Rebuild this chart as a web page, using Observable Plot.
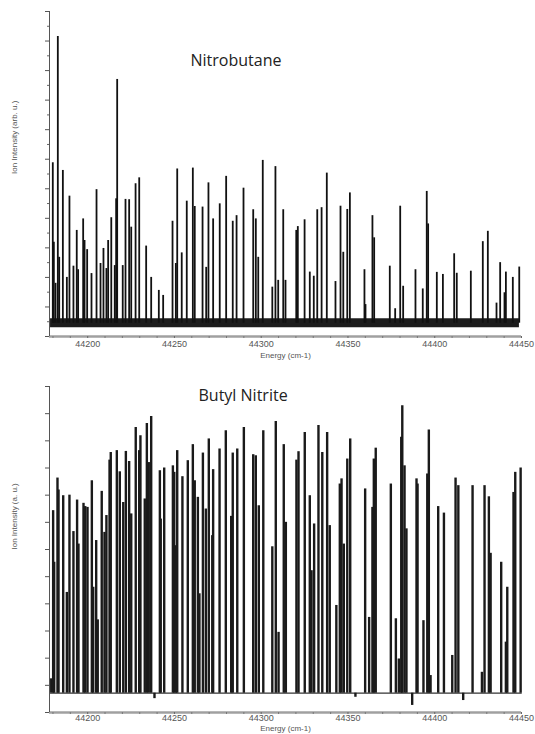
<!DOCTYPE html>
<html>
<head>
<meta charset="utf-8">
<script src="https://cdn.jsdelivr.net/npm/d3@7"></script>
<script src="https://cdn.jsdelivr.net/npm/@observablehq/plot@0.6"></script>
<style>
  html, body { margin: 0; padding: 0; background: #fff; }
  #chart { width: 535px; height: 734px; overflow: hidden; }
  #chart svg { display: block; }
</style>
</head>
<body>
<div id="chart"></div>
<script>
// ---------- shared axis values ----------
const xDomain = [44178, 44450];
const xTicks = [44200, 44250, 44300, 44350, 44400, 44450];
const xMinorTicks = [44180, 44190, 44210, 44220, 44230, 44240, 44260, 44270, 44280, 44290, 44310, 44320, 44330, 44340, 44360, 44370, 44380, 44390, 44410, 44420, 44430, 44440];
const xLabel = "Energy (cm-1)";

// ---------- Nitrobutane (top) ----------
const nbTitle = "Nitrobutane";
const nbYLabel = "Ion Intensity (arb. u.)";
const nbYTicks = [0, 1, 2, 3, 4, 5, 6, 7, 8, 9, 10, 11];
const nbYMinorTicks = [0.5, 1.5, 2.5, 3.5, 4.5, 5.5, 6.5, 7.5, 8.5, 9.5, 10.5];
const nbBaseline = 0.45;
const nbNoise = [0.3, 0.6];
const nbNoiseSpan = [44178.6, 44448.8];
const nbEnergy = [
  44179.9, 44180.5, 44181.5, 44182.8, 44183.6, 44185.7, 44188.0, 44189.5, 44191.8, 44193.7,
  44194.5, 44197.4, 44198.2, 44199.7, 44202.2, 44205.1, 44207.4, 44209.1, 44210.8, 44211.8,
  44213.6, 44215.6, 44216.4, 44217.0, 44220.2, 44221.8, 44223.9, 44225.1, 44227.6, 44229.7,
  44233.7, 44236.6, 44241.0, 44243.5, 44248.9, 44250.8, 44251.6, 44254.2, 44257.1, 44260.6,
  44261.7, 44266.2, 44268.3, 44269.6, 44272.3, 44276.1, 44279.8, 44283.6, 44285.8, 44289.8,
  44295.4, 44296.9, 44298.3, 44300.9, 44306.4, 44308.2, 44309.8, 44312.7, 44314.0, 44320.2,
  44321.1, 44325.0, 44328.0, 44330.3, 44332.3, 44334.8, 44337.8, 44342.8, 44345.7, 44347.3,
  44349.6, 44351.1, 44359.5, 44360.1, 44364.1, 44365.1, 44374.1, 44377.2, 44380.1, 44381.8,
  44388.9, 44393.1, 44395.4, 44396.2, 44401.2, 44404.7, 44411.2, 44412.7, 44420.8, 44427.7,
  44430.6, 44435.6, 44437.7, 44440.2, 44441.0, 44445.0, 44448.7
];
const nbIntensity = [
  5.88, 3.19, 1.80, 10.15, 2.68, 5.62, 2.00, 4.75, 2.38, 3.59,
  2.26, 3.98, 3.25, 2.94, 2.13, 4.97, 2.47, 2.98, 2.30, 3.25,
  4.02, 2.40, 4.66, 8.70, 2.40, 4.64, 4.63, 3.70, 5.17, 5.37,
  3.06, 2.00, 1.56, 1.39, 3.90, 2.47, 5.67, 2.83, 4.58, 5.70,
  4.40, 4.38, 2.34, 5.20, 3.98, 4.49, 5.42, 3.90, 4.09, 5.02,
  4.29, 3.98, 2.68, 5.96, 1.67, 5.75, 1.90, 4.29, 1.90, 3.59,
  3.72, 3.95, 2.18, 2.04, 4.29, 4.36, 5.53, 1.86, 4.41, 2.85,
  4.30, 4.86, 2.26, 1.08, 4.09, 3.34, 2.38, 0.94, 4.41, 1.70,
  2.26, 1.61, 4.91, 3.81, 2.17, 2.10, 2.80, 2.14, 2.21, 3.21,
  3.56, 1.13, 2.50, 1.48, 2.18, 2.00, 2.35
];

// ---------- Butyl Nitrite (bottom) ----------
const bnTitle = "Butyl Nitrite";
const bnYLabel = "Ion Intensity (a. u.)";
const bnYTicks = [0, 1, 2, 3, 4, 5, 6, 7, 8, 9, 10, 11, 12];
const bnBaseline = 0.71;
const bnBaseSpan = [44178.6, 44449.8];
const bnEnergy = [
  44179.0, 44180.1, 44180.7, 44182.6, 44183.2, 44185.9, 44188.0, 44189.5, 44191.8, 44193.9,
  44194.7, 44197.6, 44198.6, 44199.9, 44202.4, 44203.2, 44204.9, 44205.8, 44208.1, 44209.7,
  44210.8, 44212.6, 44213.3, 44216.8, 44218.5, 44220.5, 44222.0, 44223.9, 44225.1, 44227.7,
  44229.7, 44230.4, 44232.9, 44234.1, 44235.2, 44236.6, 44238.5, 44241.6, 44242.1, 44244.1,
  44249.1, 44249.9, 44250.8, 44251.6, 44254.6, 44257.7, 44260.6, 44261.7, 44263.5, 44264.4,
  44266.4, 44268.1, 44269.8, 44271.8, 44272.3, 44276.0, 44279.6, 44282.7, 44283.6, 44286.2,
  44290.0, 44295.4, 44296.9, 44298.6, 44301.2, 44306.4, 44308.4, 44310.0, 44313.0, 44314.2,
  44320.3, 44321.5, 44325.1, 44328.0, 44329.0, 44330.5, 44333.0, 44335.2, 44338.0, 44339.5,
  44343.3, 44345.3, 44346.3, 44347.6, 44349.6, 44351.3, 44354.3, 44359.9, 44362.2, 44364.1,
  44364.9, 44366.0, 44374.7, 44377.6, 44379.3, 44380.7, 44381.3, 44382.6, 44383.7, 44387.0,
  44389.5, 44390.1, 44393.5, 44395.7, 44396.6, 44397.6, 44402.0, 44405.3, 44410.1, 44412.0,
  44413.6, 44416.4, 44421.8, 44427.2, 44428.7, 44431.2, 44432.2, 44438.3, 44441.0, 44441.8,
  44445.4, 44446.4, 44449.5
];
const bnIntensity = [
  1.24, 7.43, 5.53, 8.63, 8.19, 7.98, 4.42, 8.00, 6.66, 7.82,
  6.20, 7.70, 7.58, 7.55, 8.53, 4.61, 6.33, 3.41, 8.14, 6.63,
  7.25, 9.29, 9.57, 9.64, 8.86, 7.73, 9.61, 9.24, 7.31, 10.49,
  9.64, 10.19, 7.86, 10.64, 9.20, 10.90, 0.51, 8.90, 7.12, 9.00,
  9.08, 8.84, 6.14, 9.64, 8.68, 9.27, 9.86, 8.53, 7.92, 4.37,
  9.55, 7.49, 10.07, 6.51, 8.94, 9.70, 10.37, 7.22, 9.55, 9.70,
  10.49, 9.49, 9.45, 7.61, 10.37, 6.10, 10.71, 2.95, 9.86, 7.00,
  9.29, 9.60, 10.31, 7.98, 5.22, 6.94, 10.56, 9.57, 10.31, 6.88,
  3.94, 8.41, 8.60, 6.20, 9.33, 10.07, 0.56, 8.23, 3.50, 7.55,
  9.33, 9.73, 8.41, 3.45, 1.97, 10.13, 11.29, 9.08, 6.76, 0.26,
  8.60, 8.41, 3.38, 8.78, 10.40, 1.36, 7.58, 7.34, 2.10, 8.63,
  8.35, 0.44, 8.35, 1.48, 8.35, 7.94, 5.86, 5.53, 2.59, 4.61,
  8.10, 8.84, 9.00
];

// ---------- build ----------
const nbPeaks = nbEnergy.map((e, i) => ({energy: e, intensity: nbIntensity[i]}));
const bnPeaks = bnEnergy.map((e, i) => ({energy: e, intensity: bnIntensity[i]}));

const axisFont = "'Liberation Sans', Arial, sans-serif";
const titleFont = "'Open Sans', 'Noto Sans', sans-serif";
const fmt = d3.format("d");

function commonAxes(yTicks, yMax, ylabel, labelDy, tickPadding) {
  return [
    Plot.ruleY([0], {stroke: "#a0a0a0", strokeWidth: 2.6}),
    Plot.ruleX([xDomain[0]], {y1: 0, y2: yMax, stroke: "#555", strokeWidth: 1}),
    Plot.axisY(yTicks, {anchor: "left", tickSize: 4, tickFormat: () => "", label: null, stroke: "#555"}),
    Plot.axisX(xTicks, {anchor: "bottom", tickSize: 2, tickPadding, tickFormat: fmt, fontSize: 9, fill: "#555", stroke: "#666", label: null}),
    Plot.axisX(xMinorTicks, {anchor: "bottom", tickSize: 2, tickFormat: () => "", label: null, stroke: "#777"}),
    Plot.text([xLabel], {frameAnchor: "bottom", lineAnchor: "middle", dy: labelDy, fontSize: 8, fill: "#555"}),
    Plot.text([ylabel], {frameAnchor: "left", lineAnchor: "middle", rotate: -90, dx: -35, fontSize: 8, fill: "#555"})
  ];
}

const topChart = Plot.plot({
  width: 535, height: 362,
  marginLeft: 49, marginRight: 14, marginTop: 11, marginBottom: 26,
  x: {domain: xDomain, axis: null},
  y: {domain: [0, 11], axis: null},
  style: {fontFamily: axisFont, background: "#fff", overflow: "visible"},
  marks: [
    Plot.areaY(nbNoiseSpan, {x: d => d, y1: nbNoise[0], y2: nbNoise[1], fill: "#1c1c1c"}),
    Plot.ruleX(nbPeaks, {x: "energy", y1: nbBaseline, y2: "intensity", stroke: "#111", strokeWidth: 1.8}),
    ...commonAxes(nbYTicks, 11, nbYLabel, 19, 2),
    Plot.axisY(nbYMinorTicks, {anchor: "left", tickSize: 2, tickFormat: () => "", label: null, stroke: "#666"}),
    Plot.text([nbTitle], {frameAnchor: "top-left", lineAnchor: "middle", dx: 141, dy: 49, textAnchor: "start", fontSize: 16, fill: "#222", fontFamily: titleFont})
  ]
});

const bottomChart = Plot.plot({
  width: 535, height: 372,
  marginLeft: 49, marginRight: 14, marginTop: 24, marginBottom: 22,
  x: {domain: xDomain, axis: null},
  y: {domain: [0, 12], axis: null},
  style: {fontFamily: axisFont, background: "#fff", overflow: "visible"},
  marks: [
    Plot.line(bnBaseSpan, {x: d => d, y: bnBaseline, stroke: "#333", strokeWidth: 1.3}),
    Plot.ruleX(bnPeaks, {x: "energy", y1: bnBaseline, y2: "intensity", stroke: "#1a1a1a", strokeWidth: 2.4}),
    ...commonAxes(bnYTicks, 12, bnYLabel, 16, 0),
    Plot.text([bnTitle], {frameAnchor: "top-left", lineAnchor: "middle", dx: 149, dy: 9, textAnchor: "start", fontSize: 16, fill: "#222", fontFamily: titleFont})
  ]
});

document.getElementById("chart").append(topChart, bottomChart);
</script>
</body>
</html>
